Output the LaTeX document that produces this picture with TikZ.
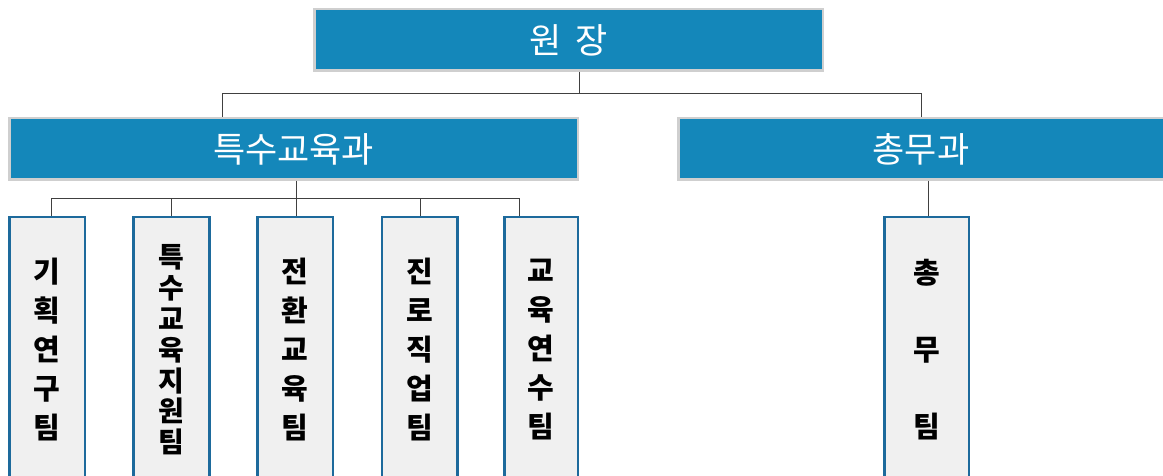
\documentclass[tikz,border=0pt]{standalone}
\usepackage{fontspec}
\newfontfamily\kr{Noto Sans CJK KR}
\definecolor{hdblue}{HTML}{1487BA}
\definecolor{hdgray}{HTML}{CFCFCF}
\definecolor{tmblue}{HTML}{1D6A9C}
\definecolor{tmfill}{HTML}{F0F0F0}
\definecolor{lncol}{HTML}{404040}
\tikzset{
  headbox/.style={fill=hdblue, draw=hdgray, line width=2.5pt, text=white,
    font=\kr\fontsize{35}{35}\selectfont, inner sep=0pt, minimum height=61.5pt},
  teambox/.style={fill=tmfill, draw=tmblue, line width=2.5pt, text=black,
    font=\kr\bfseries\fontsize{29}{39}\selectfont, align=center, inner sep=0pt,
    minimum height=265.5pt},
  conn/.style={draw=lncol, line width=1pt}
}
\begin{document}
\begin{tikzpicture}[x=1pt,y=-1pt]
\clip (0,0) rectangle (1163,476);
\fill[white] (0,0) rectangle (1163,476);
% top level
\node[headbox, minimum width=508.5pt] (wj) at (568.5,40) {원\hspace{14pt}장};
\node[headbox, minimum width=568.5pt] (tk) at (293.5,149) {특수교육과};
\node[headbox, minimum width=485.5pt] (cm) at (921,149) {총무과};
% teams
\node[teambox, minimum width=75.5pt] (t1) at (47,350) {기\\획\\연\\구\\팀};
\node[teambox, minimum width=76pt, font=\kr\bfseries\fontsize{28}{30.8}\selectfont] (t2) at (171.25,350) {특\\수\\교\\육\\지\\원\\팀};
\node[teambox, minimum width=75.5pt] (t3) at (295,350) {전\\환\\교\\육\\팀};
\node[teambox, minimum width=75.5pt] (t4) at (419.5,350) {진\\로\\직\\업\\팀};
\node[teambox, minimum width=73.5pt] (t5) at (541,350) {교\\육\\연\\수\\팀};
\node[teambox, minimum width=84.5pt, font=\kr\bfseries\fontsize{29}{77}\selectfont] (t6) at (926.5,350) {총\\무\\팀};
% connectors level 1
\coordinate (h1) at (579,94);
\coordinate (l1) at (222,94);
\coordinate (r1) at (921,94);
\draw[conn] (h1 |- wj.south) -- (h1);
\draw[conn] (l1 |- tk.north) -- (l1) -- (r1) -- (r1 |- cm.north);
% connectors level 2
\coordinate (h2) at (296,199);
\coordinate (a1) at (51,199);
\coordinate (a2) at (171,199);
\coordinate (a4) at (420,199);
\coordinate (a5) at (519,199);
\draw[conn] (h2 |- tk.south) -- (h2 |- t3.north);
\draw[conn] (a1 |- t1.north) -- (a1) -- (a5) -- (a5 |- t5.north);
\draw[conn] (a2) -- (a2 |- t2.north);
\draw[conn] (a4) -- (a4 |- t4.north);
\coordinate (c6) at (928,0);
\draw[conn] (c6 |- cm.south) -- (c6 |- t6.north);
\end{tikzpicture}
\end{document}
